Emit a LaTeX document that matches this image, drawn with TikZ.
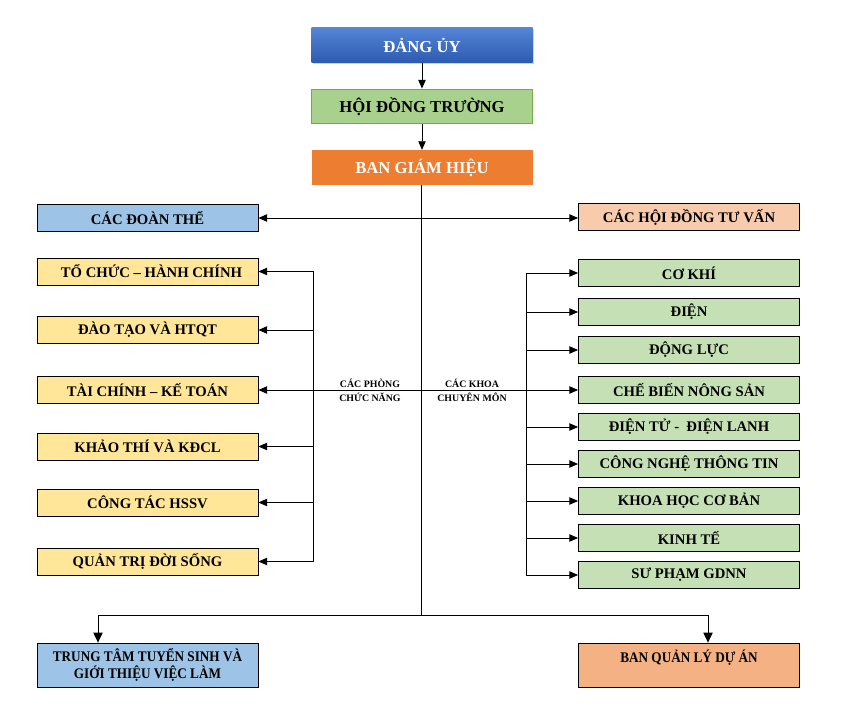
\documentclass[tikz,border=0pt]{standalone}
\usepackage{fontspec}
\setmainfont{Liberation Serif}
\newfontfamily\narrowfont{Liberation Serif}[FakeStretch=0.9]
\usepackage{tikz}
\usetikzlibrary{arrows.meta, shadows}
\definecolor{partytop}{HTML}{5585D6}
\definecolor{partybot}{HTML}{2D5BB0}
\definecolor{councilgreen}{HTML}{A9D18E}
\definecolor{councilline}{HTML}{70AD47}
\definecolor{boardorange}{HTML}{ED7D31}
\definecolor{unionblue}{HTML}{9DC3E6}
\definecolor{advisepink}{HTML}{F8CBAD}
\definecolor{officeyellow}{HTML}{FFE699}
\definecolor{facultygreen}{HTML}{C5E0B4}
\definecolor{projectorange}{HTML}{F4B183}
\tikzstyle{unit} = [rectangle, minimum width=165.75pt, minimum height=20.25pt, text centered, inner sep=0pt, draw=black, line width=0.6pt, font=\bfseries\fontsize{11}{13}\selectfont]
\tikzstyle{leader} = [unit, minimum height=26pt, font=\bfseries\fontsize{12.5}{14}\selectfont]
\tikzstyle{party} = [leader, draw=none, top color=partytop, bottom color=partybot, text=white, drop shadow={opacity=0.35, shadow xshift=1pt, shadow yshift=-1.2pt}]
\tikzstyle{council} = [leader, draw=councilline, fill=councilgreen]
\tikzstyle{board} = [leader, draw=none, fill=boardorange, text=white]
\tikzstyle{union} = [unit, fill=unionblue]
\tikzstyle{advise} = [unit, fill=advisepink]
\tikzstyle{office} = [unit, fill=officeyellow]
\tikzstyle{faculty} = [unit, fill=facultygreen]
\tikzstyle{centre} = [unit, minimum height=33pt, align=center, font=\narrowfont\bfseries\fontsize{11}{12.6}\selectfont]
\tikzstyle{grouplabel} = [align=center, inner sep=0pt, font=\bfseries\fontsize{7.4}{10.5}\selectfont]
\tikzstyle{arrow} = [line width=0.7pt, -{Triangle[length=6.5pt, width=5.5pt]}]
\tikzstyle{twoway} = [line width=0.7pt, {Triangle[length=6.5pt, width=5.5pt]}-{Triangle[length=6.5pt, width=5.5pt]}]
\tikzstyle{droparrow} = [line width=0.7pt, -{Triangle[length=7.5pt, width=7pt]}]

\begin{document}
\begin{tikzpicture}[x=0.75pt, y=-0.75pt, node distance=46pt]
  \useasboundingbox (0,0) rectangle (841,723);
  % leadership
  \node (dangy) [party] at (422,45) {ĐẢNG ỦY};
  \node (hdt) [council, below of=dangy] {HỘI ĐỒNG TRƯỜNG};
  \node (bgh) [board, below of=hdt] {BAN GIÁM HIỆU};

  \node (doanthe) [union] at (147.5,218) {CÁC ĐOÀN THỂ};
  \node (tuvan) [advise] at (689,217) {CÁC HỘI ĐỒNG TƯ VẤN};

  % phong chuc nang
  \node (tochuc) [office] at (147.5,271.5) {\hspace{6pt}TỔ CHỨC – HÀNH CHÍNH};
  \node (daotao) [office] at (147.5,330) {ĐÀO TẠO VÀ HTQT};
  \node (taichinh) [office] at (147.5,390) {TÀI CHÍNH – KẾ TOÁN};
  \node (khaothi) [office] at (147.5,446.5) {KHẢO THÍ VÀ KĐCL};
  \node (congtac) [office] at (147.5,502.5) {CÔNG TÁC HSSV};
  \node (quantri) [office] at (147.5,561.5) {QUẢN TRỊ ĐỜI SỐNG};

  % khoa chuyen mon
  \node (cokhi) [faculty] at (689,273) {CƠ KHÍ};
  \node (dien) [faculty] at (689,312) {ĐIỆN};
  \node (dongluc) [faculty] at (689,350) {ĐỘNG LỰC};
  \node (chebien) [faculty] at (689,390) {CHẾ BIẾN NÔNG SẢN};
  \node (dientu) [faculty] at (689,427) {ĐIỆN TỬ - \ ĐIỆN LANH};
  \node (cntt) [faculty] at (689,464) {CÔNG NGHỆ THÔNG TIN};
  \node (khcb) [faculty] at (689,501) {KHOA HỌC CƠ BẢN};
  \node (kinhte) [faculty] at (689,538) {KINH TẾ};
  \node (supham) [faculty] at (689,575) {SƯ PHẠM GDNN};

  \node (phong) [grouplabel] at (370,390) {CÁC PHÒNG\\CHỨC NĂNG};
  \node (khoa) [grouplabel] at (472,390) {CÁC KHOA\\CHUYÊN MÔN};

  \node (trungtam) [centre, fill=unionblue] at (147.5,665) {TRUNG TÂM TUYỂN SINH VÀ\\GIỚI THIỆU VIỆC LÀM};
  \node (banql) [centre, fill=projectorange] at (689,665) {BAN QUẢN LÝ DỰ ÁN\\ \mbox{}};

  \coordinate (lbus) at (313,0);
  \coordinate (rbus) at (526,0);
  \coordinate (fork) at (421,615);
  \coordinate (ltap) at (98,615);
  \coordinate (rtap) at (708,615);

  \draw [arrow] (dangy) -- (hdt);
  \draw [arrow] (hdt) -- (bgh);
  \draw [line width=0.7pt] (bgh.south -| fork) -- (fork);
  \draw [twoway] (doanthe.east) -- (doanthe.east -| tuvan.west);
  \draw [twoway] (taichinh.east) -- (chebien.west);

  \draw [line width=0.7pt] (lbus |- tochuc) -- (lbus |- quantri);
  \foreach \n in {tochuc, daotao, khaothi, congtac, quantri}
    \draw [arrow] (lbus |- \n) -- (\n.east);

  \draw [line width=0.7pt] (rbus |- cokhi) -- (rbus |- supham);
  \foreach \n in {cokhi, dien, dongluc, dientu, cntt, khcb, kinhte, supham}
    \draw [arrow] (rbus |- \n) -- (\n.west);

  \draw [line width=0.7pt] (ltap) -- (rtap);
  \draw [droparrow] (ltap) -- (ltap |- trungtam.north);
  \draw [droparrow] (rtap) -- (rtap |- banql.north);
\end{tikzpicture}
\end{document}
